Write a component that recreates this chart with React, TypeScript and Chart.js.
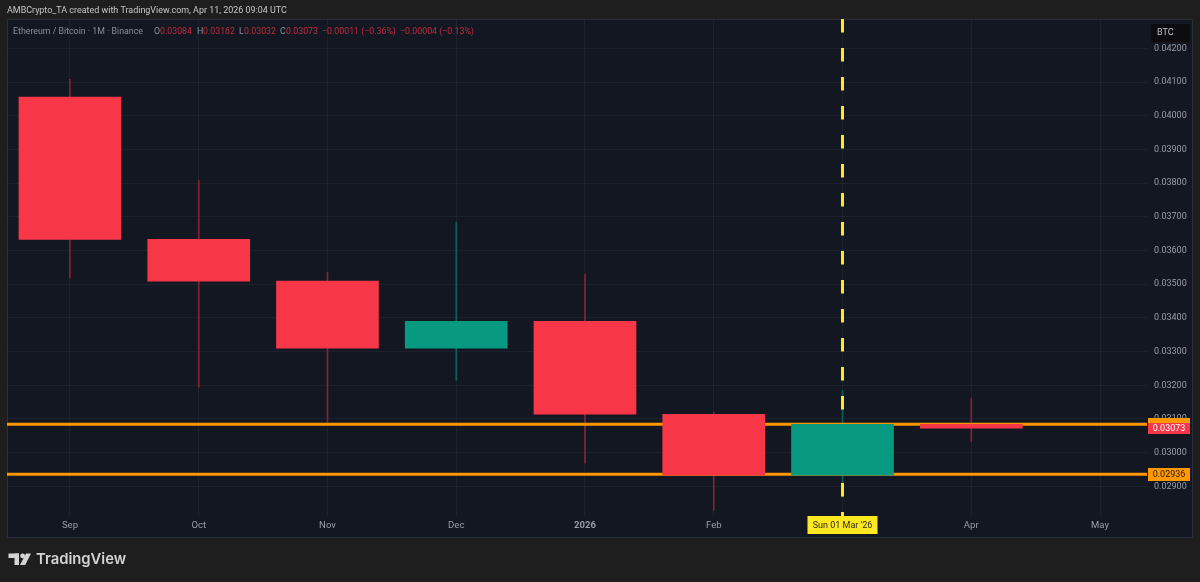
import React, { useEffect, useRef } from 'react';
import { Chart, registerables } from 'chart.js';

Chart.register(...registerables);

const months = ['Sep', 'Oct', 'Nov', 'Dec', '2026', 'Feb', 'Mar', 'Apr', 'May'];
const opens = [0.04055, 0.03633, 0.03509, 0.0331, 0.0339, 0.03114, 0.02933, 0.03084];
const highs = [0.04108, 0.03808, 0.03535, 0.03684, 0.03529, 0.0312, 0.03185, 0.03162];
const lows = [0.03518, 0.03194, 0.0309, 0.03215, 0.02969, 0.02829, 0.02868, 0.03032];
const closes = [0.03633, 0.03509, 0.0331, 0.0339, 0.03114, 0.02933, 0.03084, 0.03073];
const levels = [0.03084, 0.02936];
const markedMonth = 6;
const lastPrice = 0.03073;

const RED = '#f73748';
const GREEN = '#089981';
const RED_WICK = '#84233a';
const GREEN_WICK = '#0b5f5c';
const ORANGE = '#ff9800';
const YELLOW = '#ffe81f';

const xMin = -0.489;
const xMax = 8.365;
const yMin = 0.02812;
const yMax = 0.04287;

const FONT = 'Roboto, sans-serif';

const isUp = (i: number) => closes[i] >= opens[i];

// page background, panel, header text and the price / date tags
const tvPlugin = {
    id: 'tvFrame',
    beforeDraw(chart: any) {
        const { ctx } = chart;
        ctx.save();
        ctx.fillStyle = '#1e1e1e';
        ctx.fillRect(0, 0, 1200, 582);
        ctx.fillStyle = '#131722';
        ctx.fillRect(7, 19, 1185, 518);
        ctx.strokeStyle = '#2a2e39';
        ctx.lineWidth = 1;
        ctx.strokeRect(7.5, 19.5, 1185, 518);
        ctx.restore();
    },
    afterDraw(chart: any) {
        const { ctx, scales } = chart;
        const y = scales.y;
        const x = scales.x;
        ctx.save();
        ctx.textBaseline = 'middle';

        ctx.font = `8.95px ${FONT}`;
        ctx.fillStyle = '#c8c8c8';
        ctx.fillText('AMBCrypto_TA created with TradingView.com, Apr 11, 2026 09:04 UTC', 7, 11);

        const grey = '#8b8f9a';
        const red = '#c22a3c';
        const legend: [string, number, string][] = [
            ['Ethereum / Bitcoin · 1M · Binance', 13, grey],
            ['O', 154, grey],
            [opens[7].toFixed(5), 160, red],
            ['H', 197, grey],
            [highs[7].toFixed(5), 203, red],
            ['L', 239, grey],
            [lows[7].toFixed(5), 244, red],
            ['C', 280, grey],
            [closes[7].toFixed(5), 286, red],
            ['−0.00011 (−0.36%)', 322, red],
            ['−0.00004 (−0.13%)', 400, red],
        ];
        ctx.font = `8.8px ${FONT}`;
        legend.forEach(([text, px, color]) => {
            ctx.fillStyle = color;
            ctx.fillText(text, px, 31.5);
        });

        // BTC button
        ctx.fillStyle = '#0c0c0e';
        ctx.beginPath();
        ctx.roundRect(1151, 24, 39, 18, 2);
        ctx.fill();
        ctx.fillStyle = '#c4c4c4';
        ctx.font = `9px ${FONT}`;
        ctx.fillText('BTC', 1157, 32.5);

        // price tags
        ctx.textAlign = 'center';
        ctx.font = `9px ${FONT}`;
        ctx.fillStyle = ORANGE;
        ctx.fillRect(1148, Math.round(y.getPixelForValue(levels[0])) - 6, 42, 13);
        ctx.fillRect(1148, Math.round(y.getPixelForValue(levels[1])) - 6, 42, 13);
        ctx.fillStyle = '#2a1d08';
        ctx.fillText(levels[1].toFixed(5), 1169, y.getPixelForValue(levels[1]) + 1);
        ctx.fillStyle = RED;
        ctx.fillRect(1148, Math.round(y.getPixelForValue(lastPrice)) - 5, 42, 11);
        ctx.fillStyle = '#fff';
        ctx.fillText(lastPrice.toFixed(5), 1169, y.getPixelForValue(lastPrice) + 1);

        // date tag on the marked month
        const markX = x.getPixelForValue(markedMonth);
        ctx.fillStyle = YELLOW;
        ctx.fillRect(markX - 35, 516, 70, 18);
        ctx.fillRect(markX - 1.5, 512, 3, 5);
        ctx.fillStyle = '#2b2a10';
        ctx.fillText("Sun 01 Mar '26", markX, 525.5);

        // logo
        ctx.fillStyle = '#d4d4d4';
        ctx.fillRect(8.5, 553.5, 10.5, 4.5);
        ctx.fillRect(14.5, 553.5, 4.5, 11.5);
        ctx.beginPath();
        ctx.arc(22.6, 555.9, 2.4, 0, Math.PI * 2);
        ctx.fill();
        ctx.beginPath();
        ctx.moveTo(26, 553.5);
        ctx.lineTo(31, 553.5);
        ctx.lineTo(25.2, 565);
        ctx.lineTo(20, 565);
        ctx.closePath();
        ctx.fill();
        ctx.textAlign = 'left';
        ctx.font = '600 14.8px Inter, sans-serif';
        ctx.fillText('TradingView', 36, 560);
        ctx.restore();
    },
};

function App() {
    const chartRef = useRef<HTMLCanvasElement | null>(null);

    useEffect(() => {
        if (!chartRef.current) return;
        const indexes = opens.map((_, i) => i);
        const chart = new Chart(chartRef.current, {
            type: 'bar',
            data: {
                datasets: [
                    {
                        label: 'Body',
                        data: indexes.map(i => ({ x: i, y: [opens[i], closes[i]] })),
                        backgroundColor: indexes.map(i => (isUp(i) ? GREEN : RED)),
                        barThickness: 102,
                        grouped: false,
                        order: 1,
                    },
                    ...levels.map(level => ({
                        type: 'line',
                        label: 'Level',
                        data: [{ x: xMin, y: level }, { x: xMax, y: level }],
                        borderColor: ORANGE,
                        borderWidth: 3,
                        pointRadius: 0,
                        order: 2,
                    })),
                    {
                        type: 'line',
                        label: 'Marker',
                        data: [{ x: markedMonth, y: yMax }, { x: markedMonth, y: yMin }],
                        borderColor: YELLOW,
                        borderWidth: 3,
                        borderDash: [13.5, 15.5],
                        borderCapStyle: 'butt',
                        pointRadius: 0,
                        order: 3,
                    },
                    {
                        label: 'Wick',
                        data: indexes.map(i => ({ x: i, y: [lows[i], highs[i]] })),
                        backgroundColor: indexes.map(i => (isUp(i) ? GREEN_WICK : RED_WICK)),
                        barThickness: 1,
                        grouped: false,
                        order: 4,
                    },
                ] as any,
            },
            options: {
                animation: false,
                responsive: false,
                devicePixelRatio: 1,
                layout: { padding: { left: 7, top: 19, right: 8, bottom: 45 } },
                plugins: { legend: { display: false }, tooltip: { enabled: false } },
                scales: {
                    x: {
                        type: 'linear',
                        offset: false,
                        min: xMin,
                        max: xMax,
                        afterFit: (scale: any) => { scale.height = 21; },
                        border: { display: false },
                        grid: { color: 'rgba(255,255,255,0.045)', offset: false, drawTicks: false },
                        ticks: {
                            stepSize: 1,
                            includeBounds: false,
                            autoSkip: false,
                            maxRotation: 0,
                            padding: 4,
                            color: '#9a9ea8',
                            font: (ctx: any) => ({
                                family: FONT,
                                size: 9.5,
                                weight: months[ctx.tick?.value] === '2026' ? 'bold' : 'normal',
                            }),
                            callback: (value: any) => months[value] ?? '',
                        },
                    },
                    y: {
                        position: 'right',
                        min: yMin,
                        max: yMax,
                        afterFit: (scale: any) => { scale.width = 45; },
                        border: { display: false },
                        grid: { color: 'rgba(255,255,255,0.045)', drawTicks: false },
                        ticks: {
                            stepSize: 0.001,
                            includeBounds: false,
                            autoSkip: false,
                            padding: 7,
                            color: '#9a9ea8',
                            font: { family: FONT, size: 9 },
                            callback: (value: any) => Number(value).toFixed(5),
                        },
                    },
                },
            },
            plugins: [tvPlugin],
        } as any);

        return () => {
            chart.destroy();
        };
    }, []);

    return (
        <div style={{ position: 'fixed', left: 0, top: 0, width: 1200, height: 582 }}>
            <canvas ref={chartRef} width={1200} height={582} style={{ display: 'block' }} />
        </div>
    );
}

export default App;
